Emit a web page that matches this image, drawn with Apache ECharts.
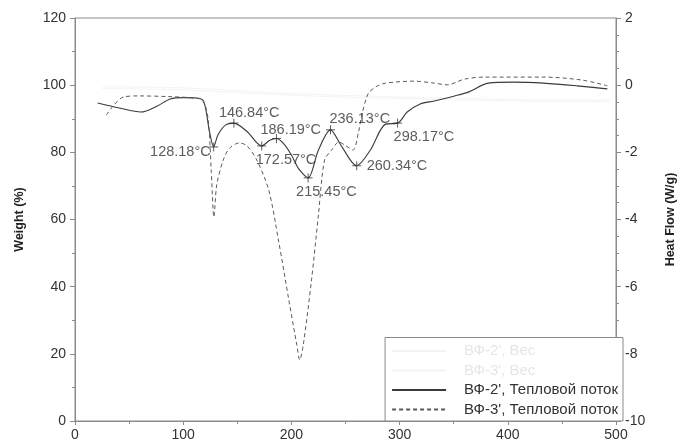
<!DOCTYPE html>
<html><head><meta charset="utf-8">
<script src="https://cdn.jsdelivr.net/npm/echarts@6/dist/echarts.min.js"></script>
<style>html,body{margin:0;padding:0;background:#fff}#c{width:685px;height:444px}</style>
</head><body><div id="c"></div>
<script>
// Temperature (°C) vs heat flow (W/g)
var hfSolid = [[21,-0.53],[41,-0.68],[61,-0.80],[76,-0.62],[88,-0.41],[100,-0.37],[112,-0.38],[118,-0.44],[121,-0.74],[124,-1.33],[128.18,-1.84],[132,-1.49],[139,-1.19],[146.84,-1.13],[159,-1.38],[172.57,-1.81],[180,-1.64],[186.19,-1.59],[193,-1.75],[200,-2.08],[207,-2.50],[215.45,-2.76],[225,-1.93],[236.13,-1.33],[246,-1.80],[260.34,-2.40],[273,-1.93],[287,-1.16],[298.17,-1.13],[307,-0.80],[319,-0.56],[332,-0.47],[351,-0.32],[364,-0.20],[382,0.06],[405,0.09],[433,0.06],[464,-0.02],[492,-0.11]];
var hfDashed = [[29,-0.89],[36,-0.59],[45,-0.35],[59,-0.32],[86,-0.34],[109,-0.38],[118,-0.45],[123,-1.0],[126,-2.6],[128.4,-3.93],[131,-2.97],[137,-2.23],[143,-1.87],[152,-1.72],[159,-1.81],[168,-2.23],[179,-3.12],[188,-4.61],[197.6,-6.39],[205,-7.73],[207.7,-8.18],[211,-7.73],[218.6,-5.80],[225,-3.86],[230.6,-2.23],[236.8,-1.95],[244,-1.69],[250,-1.80],[257,-1.93],[262,-1.4],[265,-0.9],[271,-0.25],[278,-0.05],[287,0.06],[314,0.12],[332,0.06],[344,0.01],[360,0.18],[378,0.24],[433,0.24],[469,0.15],[492,-0.02]];
// faint weight curves (%)
var wt2 = [[25,99.5],[100,99.2],[200,97.5],[300,96.5],[400,95.8],[495,95.5]];
var wt3 = [[25,99.0],[100,98.6],[200,97.0],[300,96.0],[400,95.3],[495,95.0]];
// annotated peaks: temperature, heat flow
var peakT  = [128.18,146.84,172.57,186.19,215.45,236.13,260.34,298.17];
var peakHF = [-1.84,-1.13,-1.81,-1.59,-2.76,-1.33,-2.40,-1.13];
var seriesNames = ["ВФ-2', Вес","ВФ-3', Вес","ВФ-2', Тепловой поток","ВФ-3', Тепловой поток"];

// label placement (style only)
var labelOffsets = [[-3,5,'right'],[-15,-10,'left'],[-6,14,'left'],[-16,-9,'left'],[-12,14,'left'],[-1,-11,'left'],[10,0,'left'],[-4,14,'left']];

var peakData = peakT.map(function(t,i){
  var o = labelOffsets[i];
  return {value:[t, peakHF[i]], label:{align:o[2], offset:[o[0],o[1]]}};
});

var txt = '#333', ax = '#8a8a8a', font = 'Liberation Sans';
var chart = echarts.init(document.getElementById('c'), null, {renderer:'canvas'});
chart.setOption({
  animation:false,
  textStyle:{fontFamily:font},
  grid:{left:75,right:62,top:18,bottom:23,show:true,borderColor:ax,borderWidth:1},
  legend:{
    orient:'vertical', right:62, bottom:23,
    padding:[6,5,4,6], itemGap:4.5, itemWidth:54, itemHeight:14,
    backgroundColor:'#fff', borderColor:ax, borderWidth:1, borderRadius:0,
    itemStyle:{opacity:0},
    textStyle:{fontSize:15,color:txt,fontFamily:font,padding:[0,0,0,13]},
    data:[
      {name:seriesNames[0], textStyle:{color:'#e6e6e6'}},
      {name:seriesNames[1], textStyle:{color:'#e6e6e6'}},
      {name:seriesNames[2]},
      {name:seriesNames[3]}
    ]
  },
  xAxis:{
    type:'value', min:0, max:500, interval:100,
    axisLine:{lineStyle:{color:ax}},
    axisTick:{show:true,length:4,lineStyle:{color:ax}},
    minorTick:{show:true,splitNumber:2,length:3,lineStyle:{color:ax}},
    splitLine:{show:false},
    axisLabel:{color:txt,fontSize:14,margin:7}
  },
  yAxis:[{
    type:'value', min:0, max:120, interval:20, position:'left',
    name:'Weight (%)', nameLocation:'middle', nameGap:49, nameRotate:90,
    nameTextStyle:{color:'#222',fontSize:12.5,fontWeight:'bold'},
    axisLine:{show:true,lineStyle:{color:ax}},
    axisTick:{show:true,length:5,lineStyle:{color:ax}},
    minorTick:{show:true,splitNumber:2,length:3,lineStyle:{color:ax}},
    splitLine:{show:false},
    axisLabel:{color:txt,fontSize:14,margin:9}
  },{
    type:'value', min:-10, max:2, interval:2, position:'right',
    name:'Heat Flow (W/g)', nameLocation:'middle', nameGap:48, nameRotate:90,
    nameTextStyle:{color:'#222',fontSize:12.5,fontWeight:'bold'},
    axisLine:{show:true,lineStyle:{color:ax}},
    axisTick:{show:true,length:5,lineStyle:{color:ax}},
    minorTick:{show:true,splitNumber:4,length:3,lineStyle:{color:ax}},
    splitLine:{show:false},
    axisLabel:{color:txt,fontSize:14,margin:9}
  }],
  series:[
    {name:seriesNames[0], type:'line', yAxisIndex:0, data:wt2, symbol:'none', smooth:0.3,
     lineStyle:{color:'#f3f3f3',width:1}, itemStyle:{color:'#f0f0f0'}},
    {name:seriesNames[1], type:'line', yAxisIndex:0, data:wt3, symbol:'none', smooth:0.3,
     lineStyle:{color:'#f3f3f3',width:1}, itemStyle:{color:'#f0f0f0'}},
    {name:seriesNames[2], type:'line', yAxisIndex:1, data:hfSolid, symbol:'none', smooth:0.3,
     lineStyle:{color:'#3a3a3a',width:1.1}, itemStyle:{color:'#3a3a3a'}},
    {name:seriesNames[3], type:'line', yAxisIndex:1, data:hfDashed, symbol:'none', smooth:0.3,
     lineStyle:{color:'#5a5a5a',width:1,type:[4,3]}, itemStyle:{color:'#5a5a5a'}},
    {name:'peaks', type:'scatter', yAxisIndex:1, data:peakData, z:5,
     symbol:'path://M5,0L5,10M0,5L10,5', symbolSize:9,
     itemStyle:{color:'rgba(0,0,0,0)',borderColor:'#333',borderWidth:1},
     label:{show:true, position:'inside', color:txt, fontSize:14.5, fontFamily:font,
       formatter:function(p){return p.value[0].toFixed(2)+'°C';}}}
  ]
});
</script></body></html>
